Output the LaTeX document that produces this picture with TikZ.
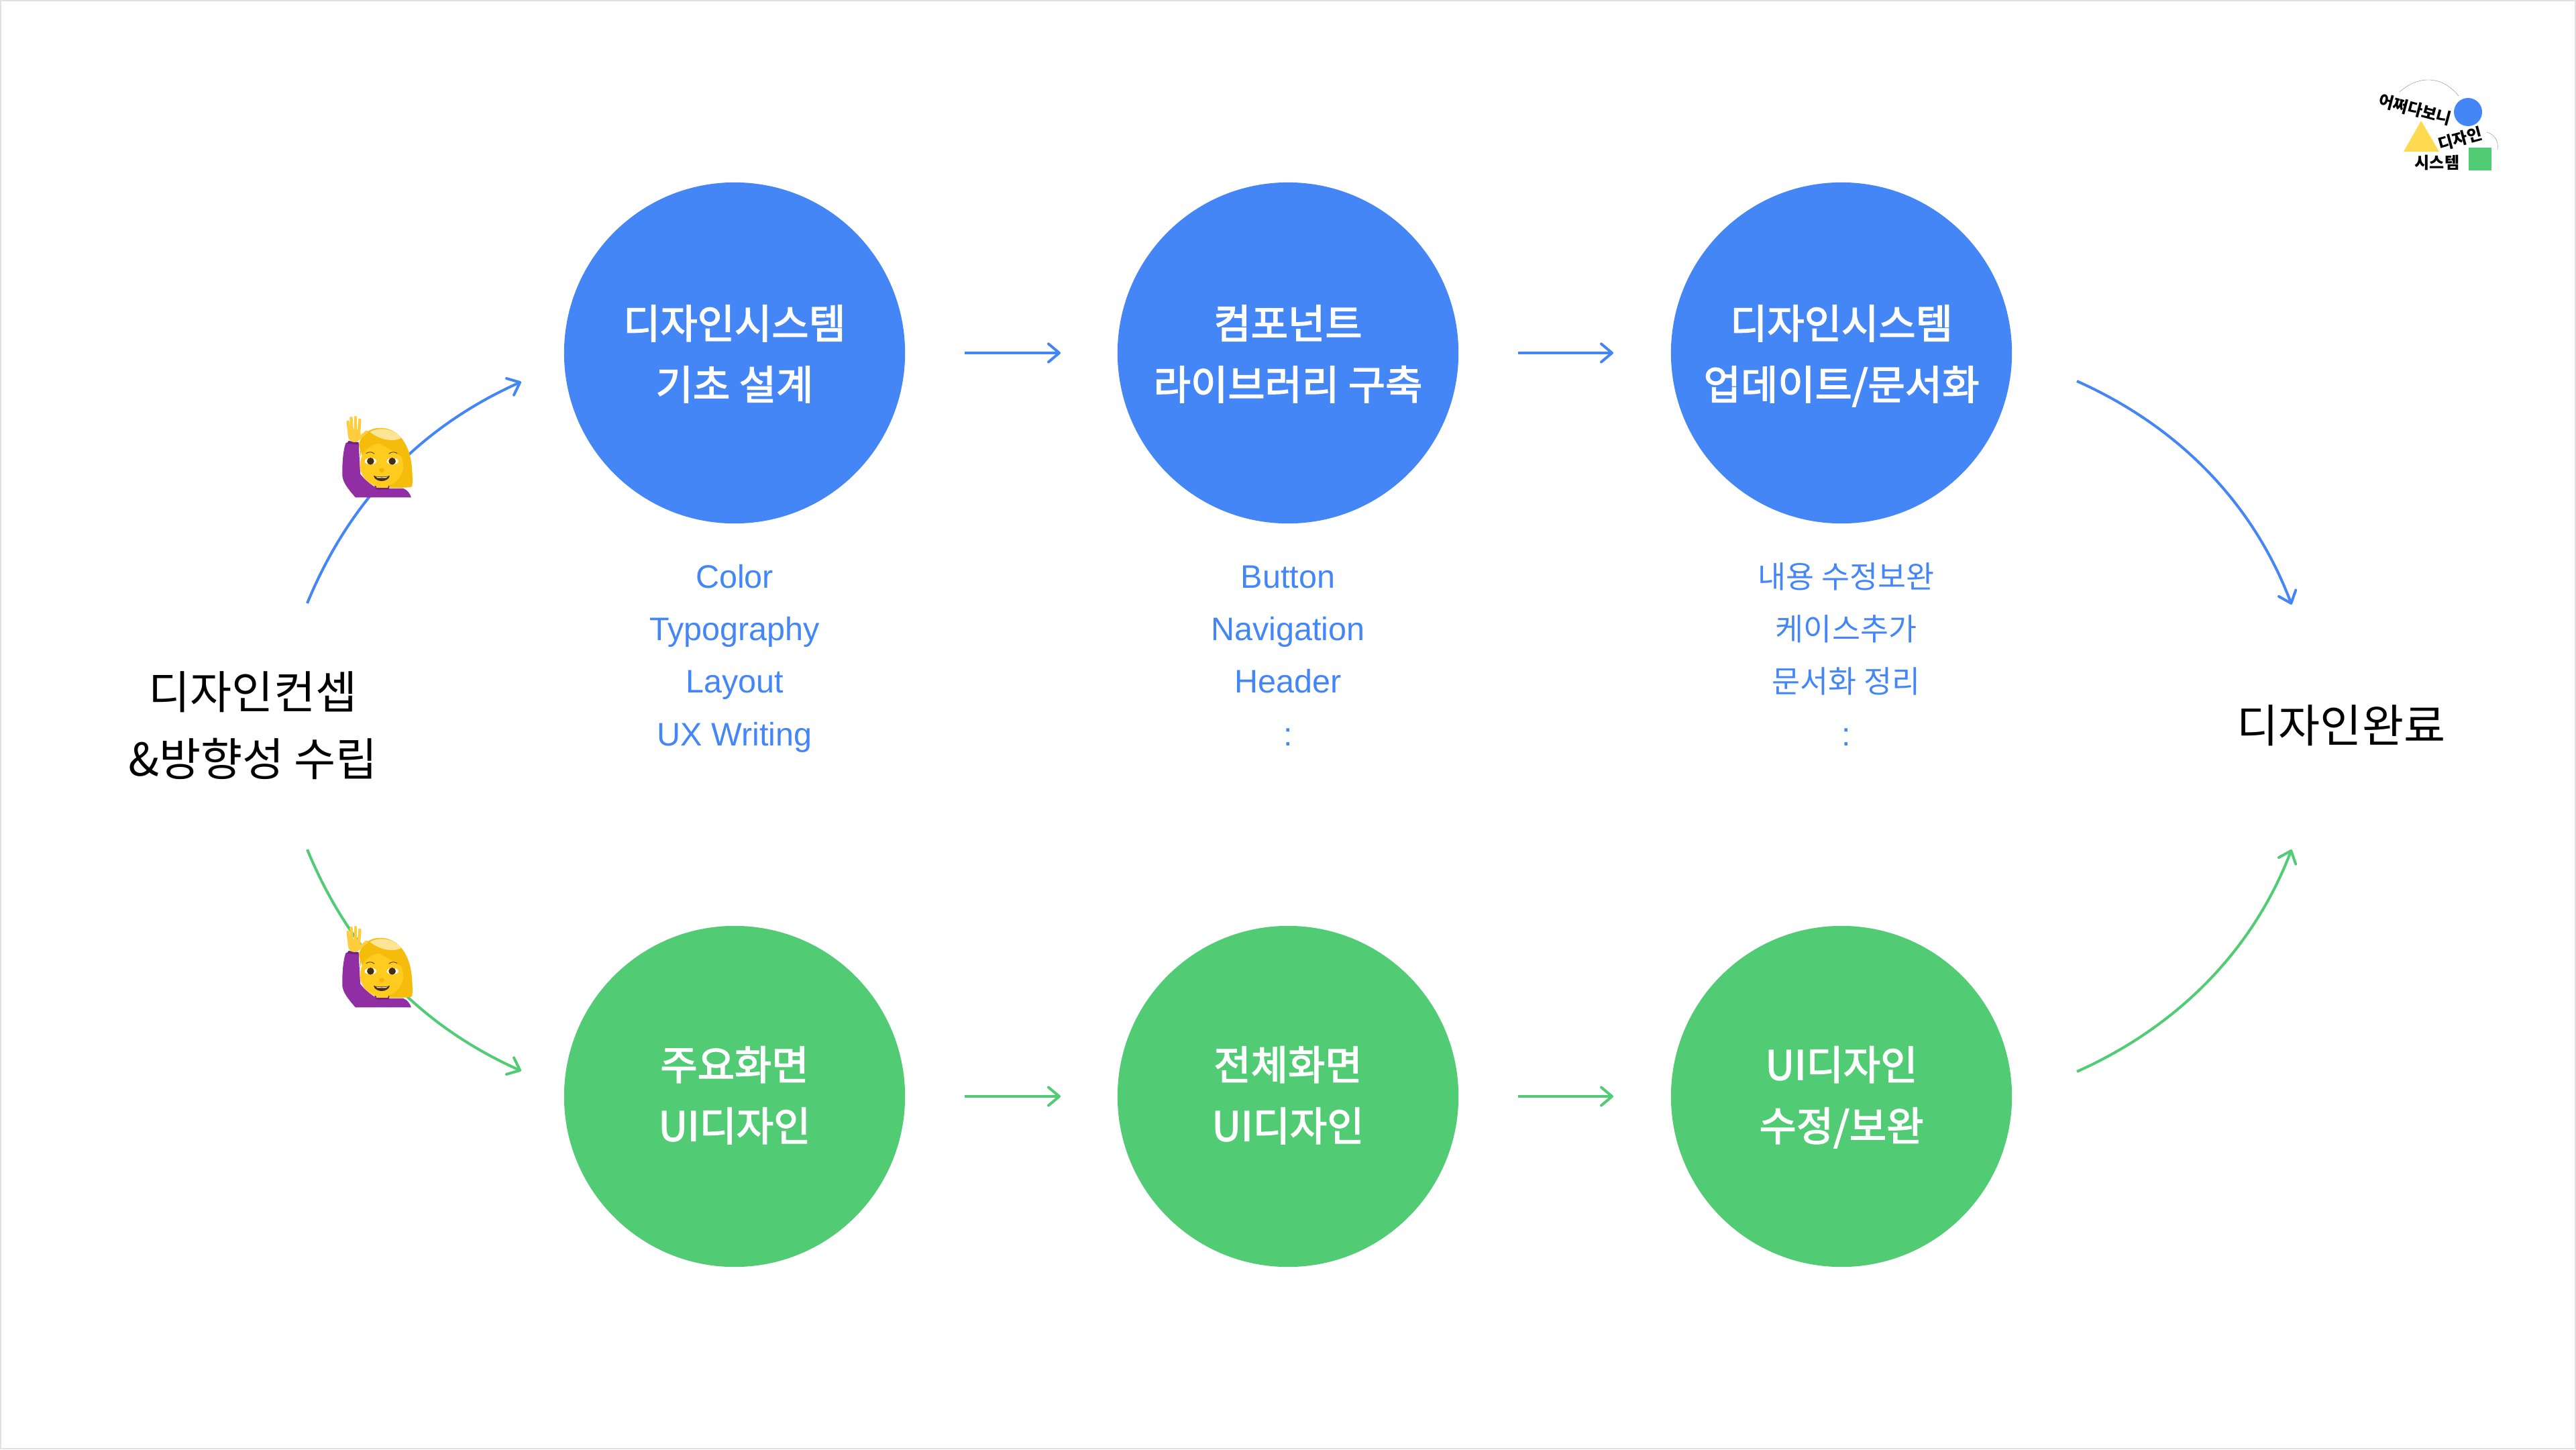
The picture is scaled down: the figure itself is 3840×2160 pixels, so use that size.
\documentclass[tikz,border=0pt]{standalone}
\usepackage{fontspec}
\setmainfont{Noto Sans CJK KR}
\newfontfamily\latinf{Liberation Sans}
\newfontfamily\medf[FakeBold=2.5]{Noto Sans CJK KR}
\usetikzlibrary{arrows.meta}
\definecolor{bl}{HTML}{4586F7}
\definecolor{gr}{HTML}{52CC74}
\definecolor{yl}{HTML}{FFD94F}
\definecolor{hairc}{RGB}{245,188,12}
\definecolor{hairl}{RGB}{253,228,150}
\definecolor{purp}{RGB}{146,46,164}
\definecolor{purd}{RGB}{112,34,132}
\definecolor{skin}{RGB}{255,203,30}
\definecolor{handc}{RGB}{255,204,60}
\definecolor{dk}{RGB}{70,44,16}
\newcommand{\ctx}[2]{\begin{tabular}{@{}c@{}}#1\strut\\#2\strut\end{tabular}}
\tikzset{
  x=0.01cm,y=-0.01cm,
  bar/.style={line width=0.04cm,-{Straight Barb[length=0.16cm,width=0.27cm,line width=0.04cm,round]}},
  blbar/.style={bar,draw=bl},
  grbar/.style={bar,draw=gr},
  bigc/.style={circle,minimum size=5.08cm,inner sep=0pt,outer sep=0pt},
  blc/.style={bigc,fill=bl},
  grc/.style={bigc,fill=gr},
  ctt/.style={inner sep=0pt,text=white,font=\medf\fontsize{17.1}{25.9}\selectfont},
  ctop/.style={ctt,yshift=-0.056cm},
  cbot/.style={ctt,yshift=-0.025cm},
  lst/.style={text=bl,font=\fontsize{13}{13}\selectfont,inner sep=0pt,anchor=center,text height=0.36cm,text depth=0cm},
  lsl/.style={lst,font=\latinf\fontsize{13.8}{13.8}\selectfont},
  big/.style={text=black,font=\fontsize{19.2}{19.2}\selectfont,inner sep=0pt,anchor=center},
  lg/.style={text=black,font=\bfseries\fontsize{6.85}{6.85}\selectfont,inner sep=0pt,anchor=center},
  finger/.style={draw=handc,line width=0.045cm,line cap=round},
  person/.pic={
    \begin{scope}[x=0.00333cm,y=-0.00333cm,shift={(-448,-520)}]
      % back hair
      \fill[hairc] (345,430) .. controls (360,370) and (410,352) .. (445,354) .. controls (520,356) and (560,420) .. (575,480) .. controls (585,520) and (587,580) .. (585,612) .. controls (585,620) and (575,622) .. (480,622) -- (400,600) -- cycle;
      % arm and body
      \fill[purp] (330,665) .. controls (300,630) and (275,600) .. (272,570) .. controls (270,520) and (275,450) .. (288,420) -- (345,425) -- (352,560) .. controls (375,590) and (405,612) .. (430,625) -- (480,625) -- (545,625) .. controls (565,632) and (575,650) .. (580,665) -- cycle;
      \fill[purd] (300,412) -- (345,418) -- (345,428) -- (290,424) -- cycle;
      \fill[purd] (415,612) -- (482,612) -- (480,630) -- (425,630) -- cycle;
      % neck and face
      \fill[skin] (415,590) -- (485,590) -- (475,622) -- (425,622) -- cycle;
      \fill[skin] (448,520) ellipse (97 and 97);
      % fringe
      \fill[hairc] (352,495) .. controls (355,445) and (375,410) .. (392,388) .. controls (430,428) and (490,445) .. (543,488) .. controls (560,450) and (530,390) .. (490,372) -- (390,370) -- (350,430) -- cycle;
      \fill[hairl] (395,372) .. controls (430,350) and (500,352) .. (535,400) .. controls (500,418) and (440,408) .. (395,372) -- cycle;
      % hand
      \fill[handc] (326,388) ellipse (29 and 30);
      \draw[finger] (304,388) -- (297,327);
      \draw[finger] (316,380) -- (311,310);
      \draw[finger] (331,380) -- (331,307);
      \draw[finger] (345,380) -- (350,318);
      \draw[finger] (345,402) -- (380,372);
      % eyes
      \fill[white] (398,503) ellipse (26 and 15);
      \fill[white] (497,503) ellipse (26 and 15);
      \fill[dk] (398,503) circle (16);
      \fill[dk] (495,503) circle (16);
      \draw[dk,line width=0.008cm] (378,468) .. controls (390,460) and (405,460) .. (415,470);
      \draw[dk,line width=0.008cm] (480,470) .. controls (490,460) and (505,460) .. (518,468);
      % nose and mouth
      \fill[color=hairc!85!orange] (448,543) ellipse (12 and 10);
      \fill[dk] (412,568) .. controls (430,574) and (465,574) .. (484,568) .. controls (482,582) and (465,592) .. (448,592) .. controls (430,592) and (414,582) .. (412,568) -- cycle;
      \fill[white!85!gray] (422,572) .. controls (435,576) and (460,576) .. (475,572) -- (468,578) -- (428,578) -- cycle;
    \end{scope}
  }
}
\begin{document}
\begin{tikzpicture}
\useasboundingbox (0,0) rectangle (3840,2160);
\draw[line width=0.02cm,color={rgb,255:red,225;green,225;blue,225}] (1,1) rectangle (3839,2159);

% circles
\node[blc] (c1) at (1095,526) {};
\node[blc] (c2) at (1920,526) {};
\node[blc] (c3) at (2745,526) {};
\node[grc] (d1) at (1095,1634) {};
\node[grc] (d2) at (1920,1634) {};
\node[grc] (d3) at (2745,1634) {};
\node[ctop] (c1t) at (c1) {\ctx{디자인시스템}{기초 설계}};
\node[ctop] (c2t) at (c2) {\ctx{컴포넌트}{라이브러리 구축}};
\node[ctop] (c3t) at (c3) {\ctx{디자인시스템}{업데이트/문서화}};
\node[cbot] (d1t) at (d1) {\ctx{주요화면}{UI디자인}};
\node[cbot] (d2t) at (d2) {\ctx{전체화면}{UI디자인}};
\node[cbot] (d3t) at (d3) {\ctx{UI디자인}{수정/보완}};

% outer labels
\node[big] (s1) at (377,1031) {디자인컨셉};
\node[big] (s2) at (377,1131) {\&방향성 수립};
\node[big] (e1) at (3490,1081) {디자인완료};

% lists
\node[lsl] (a1) at (1095,858) {Color};
\node[lsl] (a2) at (1095,936) {Typography};
\node[lsl] (a3) at (1095,1014) {Layout};
\node[lsl] (a4) at (1095,1093) {UX Writing};
\node[lsl] (b1) at (1920,858) {Button};
\node[lsl] (b2) at (1920,936) {Navigation};
\node[lsl] (b3) at (1920,1014) {Header};
\node[lsl] (b4) at (1920,1093) {:};
\node[lst] (f1) at (2752,858) {내용 수정보완};
\node[lst] (f2) at (2752,936) {케이스추가};
\node[lst] (f3) at (2752,1014) {문서화 정리};
\node[lsl] (f4) at (2752,1093) {:};

% connector ends
\coordinate (sT) at (458,899);
\coordinate (sB) at (458,1266);
\coordinate (c1in) at (777,569);
\coordinate (d1in) at (777,1596);
\coordinate (c3out) at (3096,568);
\coordinate (d3out) at (3096,1597);
\coordinate (eT) at (3416,901);
\coordinate (eB) at (3416,1266);
\coordinate (c1o) at (1438,526); \coordinate (c2i) at (1581,526);
\coordinate (c2o) at (2263,526); \coordinate (c3i) at (2405,526);
\coordinate (d1o) at (1438,1634); \coordinate (d2i) at (1581,1634);
\coordinate (d2o) at (2263,1634); \coordinate (d3i) at (2405,1634);

\draw[blbar] (c1o) -- (c2i);
\draw[blbar] (c2o) -- (c3i);
\draw[grbar] (d1o) -- (d2i);
\draw[grbar] (d2o) -- (d3i);
\draw[blbar] (sT) .. controls (521,746) and (627,636) .. (c1in);
\draw[grbar] (sB) .. controls (521,1419) and (627,1529) .. (d1in);
\draw[blbar] (c3out) .. controls (3246,635) and (3358,748) .. (eT);
\draw[grbar] (d3out) .. controls (3246,1530) and (3358,1417) .. (eB);

% person emoji
\pic (p1) at (569,693) {person};
\pic (p2) at (569,1453) {person};

% logo
\draw[line width=0.004cm,color=gray] (3577,137) .. controls (3605,112) and (3640,112) .. (3665,143);
\draw[line width=0.004cm,color=gray] (3707,197) .. controls (3718,200) and (3725,210) .. (3723,223);
\fill[bl] (3679,167) circle (21);
\fill[yl] (3609,180) -- (3636,226) -- (3583,226) -- cycle;
\fill[gr] (3680,220) rectangle (3714,254);
\node[lg,rotate=-15] (l1) at (3600,163) {어쩌다보니};
\node[lg,rotate=15] (l2) at (3667,207) {디자인};
\node[lg] (l3) at (3633,242) {시스템};
\end{tikzpicture}
\end{document}
